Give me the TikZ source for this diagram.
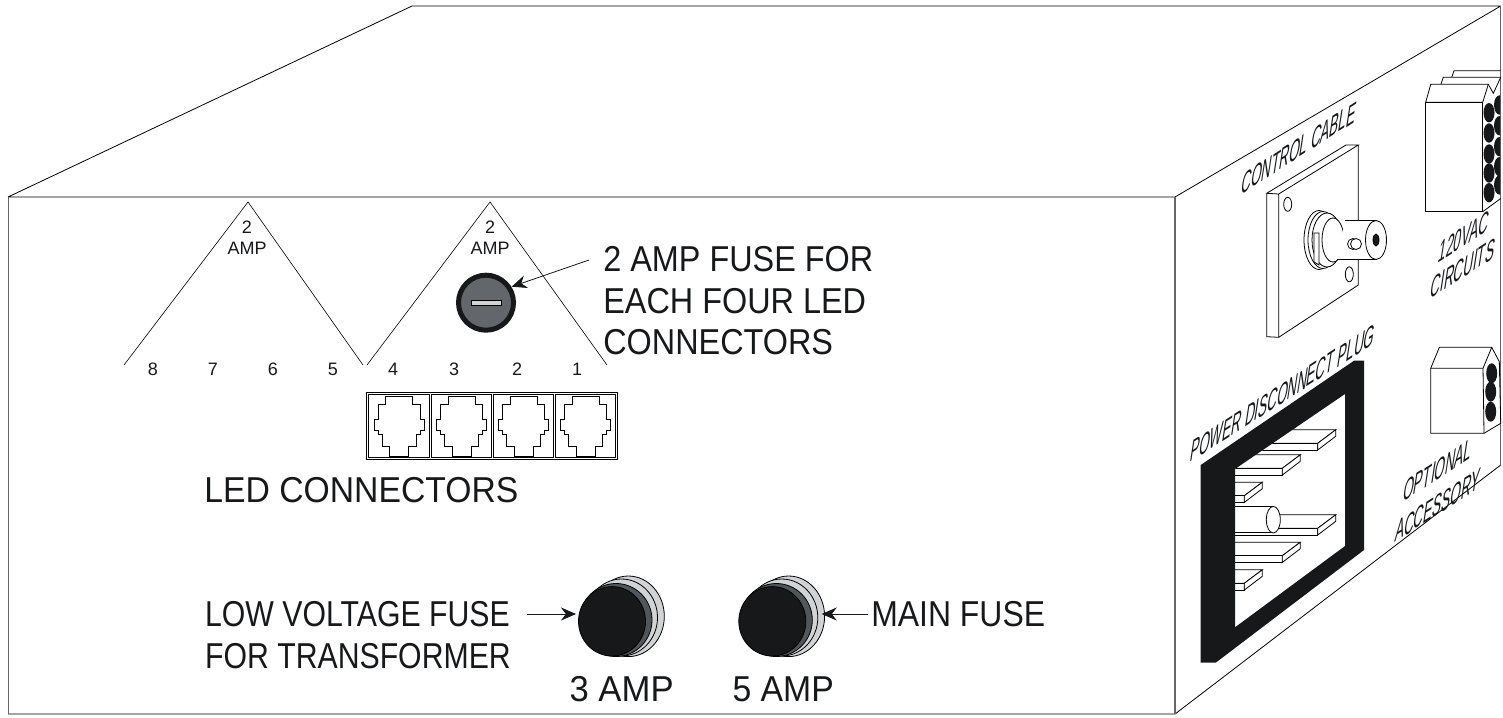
\documentclass[tikz,border=0pt]{standalone}
\usepackage{fontspec}
\setmainfont{Liberation Sans}
\usetikzlibrary{arrows.meta}

\definecolor{inkblk}{HTML}{16181A}
\definecolor{keygray}{HTML}{63676B}
\definecolor{ringgray}{HTML}{D2D3D4}
\definecolor{shadegray}{HTML}{50565A}

\newcommand{\biglbl}{\node[anchor=west, xscale=0.8525, text=inkblk, align=left, font=\fontsize{36}{41.5}\selectfont]}
\newcommand{\numlbl}{\node[text=inkblk, align=center, font=\fontsize{18}{24}\selectfont]}
\newcommand{\sidelbl}{\node[text=inkblk, cm={0.56,0.36,0.2,1.3,(0,0)}, font=\fontsize{24}{24}\selectfont]}
\newcommand{\lead}{\draw[thick, inkblk, -{Stealth[length=15pt, width=13pt]}]}

% one modular jack, #1 is the centre
\newcommand{\jack}[1]{
    \draw (#1-13.7,396) -- (#1+13.7,396) -- (#1+13.7,404.3) -- (#1+21,404.3)
        -- (#1+21,419.3) -- (#1+25,419.3) -- (#1+25,430.7) -- (#1+21,430.7) -- (#1+21,434)
        -- (#1+17,434) -- (#1+17,446) -- (#1+9.5,446) -- (#1+9.5,456.7) -- (#1-9.5,456.7)
        -- (#1-9.5,446) -- (#1-17,446) -- (#1-17,434) -- (#1-21,434) -- (#1-21,430.7)
        -- (#1-25,430.7) -- (#1-25,419.3) -- (#1-21,419.3) -- (#1-21,404.3) -- (#1-13.7,404.3) -- cycle;
}
% one flat blade of the plug, #1 and #2 are the front corner
\newcommand{\blade}[2]{
    \draw[fill=white] (1190,#2) -- (#1,#2) -- (#1+18,#2-13.5) -- (1208,#2-13.5) -- cycle;
    \draw[fill=white] (1190,#2) -- (#1,#2) -- (#1,#2+6.7) -- (1190,#2+6.7) -- cycle;
    \draw[fill=white] (#1,#2) -- (#1+18,#2-13.5) -- (#1+18,#2-7) -- (#1,#2+6.7) -- cycle;
}
% one round fuse holder, #1 is the shift
\newcommand{\fuseknob}[1]{
    \begin{scope}[shift={(#1,0)}]
        \draw[fill=ringgray] (628.3,616.3) ellipse (36 and 40.3);
        \draw[fill=ringgray] (621.5,617.5) ellipse (36 and 38.5);
        \draw[fill=shadegray] (616,620) ellipse (36 and 36.5);
        \draw[fill=inkblk] (612,621.3) ellipse (33.5 and 34.7);
    \end{scope}
}

\begin{document}
\begin{tikzpicture}[x=1pt, y=-1pt, line width=0.8pt]
    \useasboundingbox (0,0) rectangle (1503,717);

    % box outline
    \draw
        (8,197) -- (412,6) -- (1500.7,6)
        (8,197) -- (1175,197)
        (8,714) -- (1175,714)
        (1175,197) -- (1500.7,6)
        (1175,714) -- (1500.7,465)
        ;
    \draw[line width=1.3pt, black!60]
        (8.5,197) -- (8.5,714)
        (1175,197) -- (1175,714)
        (1500.7,6) -- (1500.7,465)
        ;

    % triangles for the fuse groups
    \draw[line width=0.6pt]
        (124,365) -- (248,202) -- (363,365)
        (367,365) -- (490,202) -- (607,365)
        ;
    \numlbl (ampl) at (247,238) {2\\[-3pt]AMP};
    \numlbl (ampr) at (490,238) {2\\[-3pt]AMP};
    \numlbl (n8) at (153,369) {8};
    \numlbl (n7) at (213,369) {7};
    \numlbl (n6) at (273,369) {6};
    \numlbl (n5) at (333,369) {5};
    \numlbl (n4) at (393,369) {4};
    \numlbl (n3) at (454,369) {3};
    \numlbl (n2) at (517,369) {2};
    \numlbl (n1) at (577,369) {1};

    % fuse with the slot
    \draw[line width=5pt, draw=inkblk, fill=keygray] (486,302.7) circle (27.5);
    \draw[fill=ringgray] (471.7,300.7) rectangle (501,305.7);
    \coordinate (keytip) at (511.7,286.7);
    \biglbl[xscale=1.055] (fuselbl) at (600,301) {2 AMP FUSE FOR\\EACH FOUR LED\\CONNECTORS};
    \coordinate (keytail) at (589,260);
    \lead (keytail) -- (keytip);

    % led connector strip
    \draw[line width=0.6pt] (366,392.3) rectangle (617.7,459.3);
    \draw[line width=0.6pt] (368.3,394.3) rectangle (429,457.7);
    \draw[line width=0.6pt] (431.3,394.3) rectangle (491.7,457.7);
    \draw[line width=0.6pt] (493.3,394.3) rectangle (553.3,457.7);
    \draw[line width=0.6pt] (555.3,394.3) rectangle (615.7,457.7);
    \jack{399}
    \jack{461.7}
    \jack{523.7}
    \jack{585.7}
    \biglbl[xscale=1.098] (ledlbl) at (201,490) {LED CONNECTORS};

    % fuses at the bottom
    \fuseknob{0}
    \fuseknob{160.3}
    \biglbl[xscale=0.985] (lowlbl) at (202,635) {LOW VOLTAGE FUSE\\FOR TRANSFORMER};
    \biglbl[xscale=1.04] (mainlbl) at (868,614) {MAIN FUSE};
    \coordinate (lowtail) at (527,614);
    \coordinate (lowtip) at (576,614);
    \coordinate (maintip) at (821.7,614);
    \lead (lowtail) -- (lowtip);
    \lead (mainlbl.west) -- (maintip);
    \biglbl[xscale=1.13] (amp3) at (566,689) {3 AMP};
    \biglbl[xscale=1.1] (amp5) at (729,689) {5 AMP};

    % control cable plate
    \draw (1266.7,193.3) -- (1278.7,194) -- (1278.7,337.3) -- (1266.7,336.7) -- cycle;
    \draw (1266.7,193.3) -- (1346,145) -- (1358.3,145) -- (1278.7,194);
    \draw (1358.3,145) -- (1358.3,285) -- (1278.7,337.3);
    \draw (1287.7,204.3) ellipse (4 and 7);
    \draw (1349.3,274.3) ellipse (4 and 7.5);

    % bayonet socket
    \draw[fill=white] (1319,240) ellipse (15 and 29.5);
    \draw[fill=white] (1323,240) ellipse (15 and 28.5);
    \draw[fill=white] (1327,240) ellipse (15 and 27);
    \draw[fill=white] (1333,240) ellipse (11 and 22);
    \draw[fill=white] (1345,220.7) -- (1376,220.7) -- (1376,259.3) -- (1337,259.3);
    \draw[fill=white] (1376,240) ellipse (10.5 and 19.5);
    \draw[fill=inkblk] (1376,240) ellipse (3 and 6);
    \draw[fill=white] (1353,244) circle (5.5);
    \draw[fill=white] (1356,244) circle (5.5);
    \draw[fill=white] (1314,233) -- (1319,233) -- (1319,265) -- (1314,262) -- cycle;
    \sidelbl (ctrllbl) at (1299,148) {CONTROL CABLE};

    % 120 V connector
    \draw (1451.7,77.3) -- (1454,70.7) -- (1500.7,70.7);
    \draw (1441,84) -- (1443.3,77.3) -- (1500.7,77.3);
    \draw[fill=white] (1425.7,102.3) -- (1430.7,84.3) -- (1488.3,84.3) -- (1482.7,102.3) -- cycle;
    \draw[fill=white] (1425.7,102.3) rectangle (1482.7,211.7);
    \draw (1488.3,84.3) -- (1493.3,93.3) -- (1500.7,77.3);
    \draw (1482.7,211.7) -- (1500.7,198.5);
    \begin{scope}
        \clip (1483.5,80) rectangle (1500.2,215);
        \fill[inkblk] (1489,112.7) ellipse (5.5 and 9.7);
        \fill[inkblk] (1489,133) ellipse (5.5 and 9.7);
        \fill[inkblk] (1489,154) ellipse (5.5 and 9.7);
        \fill[inkblk] (1489,173) ellipse (5.5 and 9.7);
        \fill[inkblk] (1489,192.7) ellipse (5.5 and 9.7);
        \fill[inkblk] (1499.5,105) ellipse (5.5 and 9.7);
        \fill[inkblk] (1499.5,125.7) ellipse (5.5 and 9.7);
        \fill[inkblk] (1499.5,146.7) ellipse (5.5 and 9.7);
        \fill[inkblk] (1499.5,166.7) ellipse (5.5 and 9.7);
        \fill[inkblk] (1499.5,185) ellipse (5.5 and 9.7);
    \end{scope}
    \sidelbl (vaclbl) at (1464,236.7) {120VAC};
    \sidelbl (circlbl) at (1463,268) {CIRCUITS};

    % accessory connector
    \draw (1430.7,368.3) -- (1439.3,347.3) -- (1491.7,347.3) -- (1483,368.3) -- cycle;
    \draw (1430.7,368.3) -- (1430.7,433.3) -- (1484,433.3) -- (1483,368.3);
    \draw (1491.7,347.3) -- (1499.3,361.7) -- (1500.7,423.3) -- (1484,433.3);
    \fill[inkblk] (1491.7,373.3) ellipse (5.5 and 10);
    \fill[inkblk] (1490.7,391.7) ellipse (5.5 and 10);
    \fill[inkblk] (1490.7,411.7) ellipse (5.5 and 10);
    \sidelbl (optlbl) at (1438,470) {OPTIONAL};
    \sidelbl (acclbl) at (1438,505) {ACCESSORY};

    % power plug, blades behind the frame
    \begin{scope}
        \clip (1235,469) -- (1345,394) -- (1345,546) -- (1235,627.3) -- cycle;
        \blade{1317.7}{443.3}
        \blade{1282.3}{468.3}
        \blade{1244.3}{495.7}
        \blade{1317.7}{528.3}
        \draw[fill=white] (1190,506.3) -- (1273.3,506.3) -- (1273.3,532.7) -- (1190,532.7) -- cycle;
        \draw[fill=white] (1273.3,519.7) ellipse (7 and 13.3);
        \blade{1282.3}{555.7}
        \blade{1244.3}{583.3}
    \end{scope}
    \fill[inkblk, even odd rule]
        (1200.7,465) -- (1354,360.7) -- (1364,360.7) -- (1364,550) -- (1215.7,662.7) -- (1200.7,662.7) -- cycle
        (1235,469) -- (1345,394) -- (1345,546) -- (1235,627.3) -- cycle;
    \sidelbl (pluglbl) at (1283,393) {POWER DISCONNECT PLUG};
\end{tikzpicture}
\end{document}
